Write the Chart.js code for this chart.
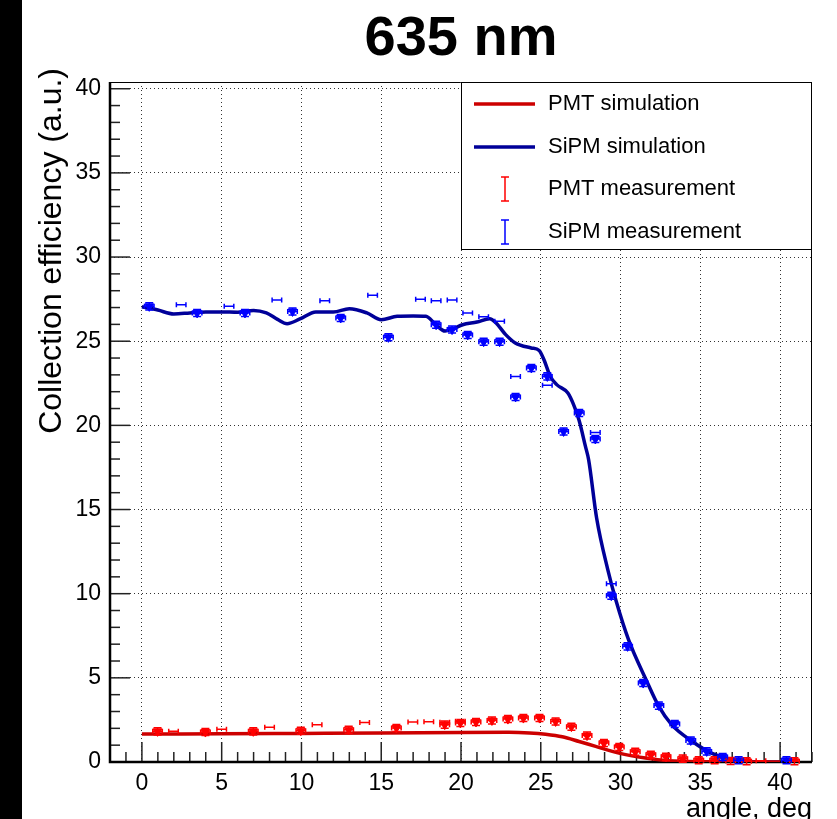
<!DOCTYPE html>
<html>
<head>
<meta charset="utf-8">
<title>635 nm</title>
<script src="https://cdn.jsdelivr.net/npm/chart.js@4.4.1/dist/chart.umd.min.js"></script>
<style>
  html, body { margin: 0; padding: 0; background: #fff; }
  canvas { display: block; }
</style>
</head>
<body>
<canvas id="chart" width="837" height="819"></canvas>
<script>
// Collection efficiency vs angle, 635 nm (ROOT-style canvas)

const chartTitle = '635 nm';
const xTitle = 'angle, deg';
const yTitle = 'Collection efficiency (a.u.)';

const xTicks = [0, 5, 10, 15, 20, 25, 30, 35, 40];
const yTicks = [0, 5, 10, 15, 20, 25, 30, 35, 40];

// Simulation curves
const pmtSimAngle = [0, 5, 10, 15, 20, 23, 24.3, 25.3, 26.35, 27.4, 28.44, 29.9, 31.56, 33, 35, 40];
const pmtSimValue = [1.66, 1.68, 1.7, 1.72, 1.76, 1.77, 1.73, 1.65, 1.5, 1.22, 0.93, 0.53, 0.24, 0.08, 0.02, 0.0];

const sipmSimAngle = [0, 1, 2, 3, 4, 5, 6, 7, 7.8, 8.5, 9.1, 9.9, 10.9, 12, 13, 14.1, 15, 16, 17, 17.8,
  18.4, 19, 19.5, 20.1, 21, 21.8, 22.2, 22.8, 23.4, 24.4, 24.9, 25.2, 25.6, 26.0, 26.7, 27.1, 27.4, 27.8,
  28.0, 28.5, 29.2, 29.7, 30.5, 31.6, 32.4, 33.2, 34.5, 35.7, 37, 38, 40];
const sipmSimValue = [27.05, 26.85, 26.62, 26.68, 26.74, 26.74, 26.72, 26.83, 26.68, 26.3, 26.04, 26.32, 26.74,
  26.74, 26.93, 26.68, 26.28, 26.48, 26.5, 26.48, 26.0, 25.6, 25.73, 25.98, 26.14, 26.34, 26.08, 25.39, 24.9,
  24.6, 24.45, 23.9, 22.9, 22.42, 21.92, 21.13, 20.3, 18.75, 17.96, 14.5, 11.43, 9.64, 7.27, 4.89, 3.3, 2.22,
  1.22, 0.53, 0.14, 0.03, 0.0];

// Measurements (points with markers)
const pmtMeasAngle = [0.98, 3.98, 6.98, 9.96, 12.96, 15.95, 18.98, 19.96, 20.94, 21.94, 22.94, 23.91, 24.92,
  25.93, 26.92, 27.9, 28.96, 29.92, 30.92, 31.9, 32.85, 33.9, 34.9, 35.9, 36.9, 37.9, 40.9];
const pmtMeasValue = [1.82, 1.78, 1.82, 1.86, 1.92, 2.02, 2.22, 2.32, 2.38, 2.47, 2.55, 2.61, 2.61,
  2.41, 2.1, 1.57, 1.13, 0.89, 0.61, 0.43, 0.31, 0.2, 0.1, 0.1, 0.06, 0.04, 0.04];

const sipmMeasAngle = [0.46, 3.46, 6.46, 9.44, 12.46, 15.45, 18.44, 19.44, 20.42, 21.42, 22.42, 23.42, 24.41,
  25.41, 26.43, 27.41, 28.42, 29.42, 30.44, 31.42, 32.4, 33.4, 34.4, 35.4, 36.4, 37.4, 40.4];
const sipmMeasValue = [27.07, 26.68, 26.68, 26.77, 26.38, 25.23, 25.98, 25.69, 25.37, 24.97, 24.97, 21.69, 23.41,
  22.91, 19.64, 20.74, 19.19, 9.88, 6.87, 4.69, 3.35, 2.26, 1.28, 0.63, 0.3, 0.1, 0.1];

// Measurements shown only as horizontal error bars
const pmtBarAngle = [1.98, 5.0, 8.0, 10.98, 13.96, 16.98, 17.98, 18.98, 19.96, 38.8];
const pmtBarValue = [1.82, 1.94, 2.06, 2.22, 2.34, 2.38, 2.39, 2.36, 2.42, 0.07];

const sipmBarAngle = [2.46, 5.46, 8.46, 11.46, 14.46, 17.46, 18.44, 19.44, 20.42, 21.42, 22.42, 23.42, 25.41, 28.42, 29.42];
const sipmBarValue = [27.17, 27.07, 27.45, 27.41, 27.73, 27.49, 27.41, 27.45, 26.68, 26.46, 26.18, 22.91, 22.38, 19.58, 10.59];

const xErr = 0.3;
const yErr = 0.15;

const colPmtSim = '#cc0000';
const colSipmSim = '#000099';
const colPmtMeas = '#ff0000';
const colSipmMeas = '#0000ff';

const FONT = "'Liberation Sans', Arial, Helvetica, sans-serif";
Chart.defaults.font.family = FONT;

function toPoints(xs, ys) {
  return xs.map((x, i) => ({ x: x, y: ys[i] }));
}

// ROOT-like frame, inward ticks, error bars, legend and titles
const rootStyle = {
  id: 'rootStyle',
  beforeDraw(chart) {
    const ctx = chart.ctx;
    ctx.save();
    ctx.fillStyle = '#fff';
    ctx.fillRect(0, 0, chart.width, chart.height);
    ctx.fillStyle = '#000';
    ctx.fillRect(0, 0, 22, chart.height);
    ctx.restore();
  },
  beforeDatasetsDraw(chart) {
    const { ctx, chartArea: a, scales: { x, y } } = chart;
    ctx.save();
    ctx.strokeStyle = '#000';
    ctx.lineWidth = 1;
    ctx.beginPath();
    ctx.moveTo(a.left, a.top + 0.5);
    ctx.lineTo(a.right - 0.5, a.top + 0.5);
    ctx.lineTo(a.right - 0.5, a.bottom);
    ctx.stroke();

    ctx.strokeStyle = '#222';
    ctx.lineWidth = 1.5;
    for (let v = Math.ceil(x.min); v <= x.max; v++) {
      const px = x.getPixelForValue(v);
      const len = v % 5 === 0 ? 20 : 10;
      ctx.beginPath();
      ctx.moveTo(px, a.bottom);
      ctx.lineTo(px, a.bottom - len);
      ctx.stroke();
    }
    for (let v = 1; v <= y.max; v++) {
      const py = y.getPixelForValue(v);
      const len = v % 5 === 0 ? 20 : 10;
      ctx.beginPath();
      ctx.moveTo(a.left, py);
      ctx.lineTo(a.left + len, py);
      ctx.stroke();
    }

    ctx.strokeStyle = '#000';
    ctx.lineWidth = 2.5;
    ctx.beginPath();
    ctx.moveTo(a.left, a.top);
    ctx.lineTo(a.left, a.bottom);
    ctx.lineTo(a.right, a.bottom);
    ctx.stroke();
    ctx.restore();
  },
  afterDatasetsDraw(chart) {
    const { ctx, scales: { x, y } } = chart;
    ctx.save();
    ctx.lineWidth = 1.5;
    chart.data.datasets.forEach(ds => {
      if (!ds.errBars) return;
      ctx.strokeStyle = ds.borderColor;
      ds.data.forEach(p => {
        const px = x.getPixelForValue(p.x);
        const py = y.getPixelForValue(p.y);
        const x1 = x.getPixelForValue(p.x - xErr);
        const x2 = x.getPixelForValue(p.x + xErr);
        ctx.beginPath();
        ctx.moveTo(x1, py); ctx.lineTo(x2, py);
        ctx.moveTo(x1, py - 2.5); ctx.lineTo(x1, py + 2.5);
        ctx.moveTo(x2, py - 2.5); ctx.lineTo(x2, py + 2.5);
        if (ds.withYErr) {
          const y1 = y.getPixelForValue(p.y + yErr);
          const y2 = y.getPixelForValue(p.y - yErr);
          ctx.moveTo(px, y1 - 1); ctx.lineTo(px, y2 + 1);
          ctx.moveTo(px - 4, y1 - 1); ctx.lineTo(px + 4, y1 - 1);
          ctx.moveTo(px - 4, y2 + 1); ctx.lineTo(px + 4, y2 + 1);
        }
        ctx.stroke();
      });
    });
    ctx.restore();
  },
  afterDraw(chart) {
    const { ctx, chartArea: a } = chart;
    ctx.save();

    // legend box
    const lx = 461, ly = a.top, lw = a.right - 461, lh = 168;
    ctx.fillStyle = '#fff';
    ctx.fillRect(lx, ly, lw, lh);
    ctx.strokeStyle = '#000';
    ctx.lineWidth = 1;
    ctx.strokeRect(lx + 0.5, ly + 0.5, lw - 1, lh - 1);

    const entries = chart.data.datasets.filter(ds => ds.label);
    entries.sort((p, q) => p.legendRank - q.legendRank);
    const rowY = [104, 147, 189, 232];
    ctx.font = '22px ' + FONT;
    ctx.textBaseline = 'middle';
    ctx.textAlign = 'left';
    entries.forEach((ds, i) => {
      const cy = ly + rowY[i] - 82;
      if (ds.errBars) {
        ctx.strokeStyle = ds.borderColor;
        ctx.lineWidth = 1.5;
        ctx.beginPath();
        ctx.moveTo(505, cy - 12); ctx.lineTo(505, cy + 12);
        ctx.moveTo(501, cy - 12); ctx.lineTo(509, cy - 12);
        ctx.moveTo(501, cy + 12); ctx.lineTo(509, cy + 12);
        ctx.stroke();
      } else {
        ctx.strokeStyle = ds.borderColor;
        ctx.lineWidth = 3.5;
        ctx.beginPath();
        ctx.moveTo(474, cy); ctx.lineTo(535, cy);
        ctx.stroke();
      }
      ctx.fillStyle = '#000';
      ctx.fillText(ds.label, 548, cy);
    });

    // titles
    ctx.fillStyle = '#000';
    ctx.textBaseline = 'alphabetic';
    ctx.textAlign = 'center';
    ctx.font = 'bold 56px ' + FONT;
    ctx.fillText(chartTitle, (a.left + a.right) / 2, 55);

    ctx.textAlign = 'right';
    ctx.font = '27px ' + FONT;
    ctx.fillText(xTitle, a.right, 817);

    ctx.translate(61, 68);
    ctx.rotate(-Math.PI / 2);
    ctx.textAlign = 'right';
    ctx.font = '32px ' + FONT;
    ctx.fillText(yTitle, 0, 0);
    ctx.restore();
  }
};

const ctx = document.getElementById('chart').getContext('2d');
new Chart(ctx, {
  type: 'scatter',
  data: {
    datasets: [
      {
        label: 'PMT measurement', legendRank: 2,
        data: toPoints(pmtMeasAngle, pmtMeasValue),
        borderColor: colPmtMeas, backgroundColor: colPmtMeas,
        pointStyle: 'triangle', rotation: 180, pointRadius: 5, borderWidth: 1,
        errBars: true, withYErr: true, order: 1
      },
      {
        label: '', data: toPoints(pmtBarAngle, pmtBarValue),
        borderColor: colPmtMeas, backgroundColor: colPmtMeas, pointRadius: 0,
        errBars: true, withYErr: false, order: 1
      },
      {
        label: 'SiPM measurement', legendRank: 3,
        data: toPoints(sipmMeasAngle, sipmMeasValue),
        borderColor: colSipmMeas, backgroundColor: colSipmMeas,
        pointStyle: 'triangle', rotation: 180, pointRadius: 5, borderWidth: 1,
        errBars: true, withYErr: true, order: 1
      },
      {
        label: '', data: toPoints(sipmBarAngle, sipmBarValue),
        borderColor: colSipmMeas, backgroundColor: colSipmMeas, pointRadius: 0,
        errBars: true, withYErr: false, order: 1
      },
      {
        label: 'PMT simulation', legendRank: 0, type: 'line',
        data: toPoints(pmtSimAngle, pmtSimValue),
        borderColor: colPmtSim, borderWidth: 3.5, pointRadius: 0,
        cubicInterpolationMode: 'monotone', fill: false, order: 2
      },
      {
        label: 'SiPM simulation', legendRank: 1, type: 'line',
        data: toPoints(sipmSimAngle, sipmSimValue),
        borderColor: colSipmSim, borderWidth: 3.5, pointRadius: 0,
        cubicInterpolationMode: 'monotone', fill: false, order: 2
      }
    ]
  },
  options: {
    responsive: false,
    animation: false,
    devicePixelRatio: 1,
    layout: { padding: { left: 0, right: 25, top: 82, bottom: 0 } },
    plugins: {
      legend: { display: false },
      title: { display: false },
      tooltip: { enabled: false }
    },
    scales: {
      x: {
        type: 'linear', min: -2, max: 42,
        afterBuildTicks: scale => { scale.ticks = xTicks.map(v => ({ value: v })); },
        afterFit: scale => { scale.height = 57; },
        grid: { color: '#333', lineWidth: 1, drawTicks: false },
        border: { display: false, dash: [1, 3] },
        ticks: { color: '#000', font: { size: 23 }, padding: 8, autoSkip: false, maxRotation: 0 }
      },
      y: {
        type: 'linear', min: 0, max: 40.4,
        afterBuildTicks: scale => { scale.ticks = yTicks.map(v => ({ value: v })); },
        afterFit: scale => { scale.width = 110; },
        grid: { color: '#333', lineWidth: 1, drawTicks: false },
        border: { display: false, dash: [1, 3] },
        ticks: { color: '#000', font: { size: 23 }, padding: 9 }
      }
    }
  },
  plugins: [rootStyle]
});
</script>
</body>
</html>
